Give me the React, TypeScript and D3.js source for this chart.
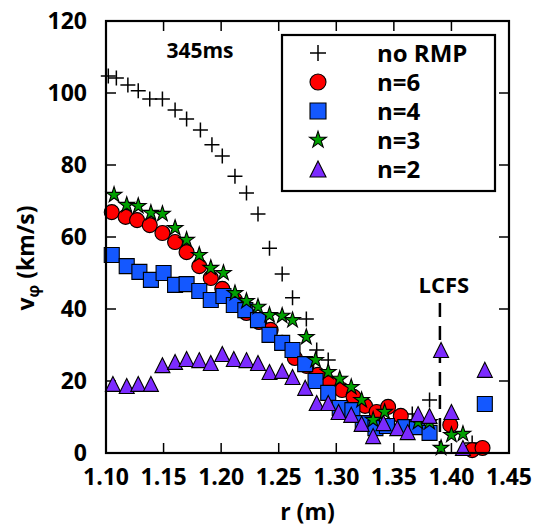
import React from "react";
import * as d3 from "d3";

const xTicks = [1.1, 1.15, 1.2, 1.25, 1.3, 1.35, 1.4, 1.45];
const yTicks = [0, 20, 40, 60, 80, 100, 120];

const rNoRMP = [1.102,1.109,1.119,1.128,1.138,1.149,1.160,1.170,1.182,1.192,1.201,1.212,1.222,1.232,1.242,1.253,1.262,1.274,1.283,1.293,1.366,1.381,1.418];
const vNoRMP = [104.7,104.2,102.2,100.6,98.3,98.3,95.3,92.8,89.7,85.6,82.5,76.9,72.2,66.4,56.9,49.7,43.1,37.2,28.6,25.8,10.8,14.7,2.8];

const rN6 = [1.105,1.117,1.127,1.138,1.149,1.160,1.170,1.181,1.191,1.201,1.212,1.222,1.233,1.243,1.253,1.264,1.274,1.284,1.294,1.305,1.315,1.325,1.335,1.345,1.356,1.399,1.418,1.427];
const vN6 = [66.9,65.6,64.7,63.3,61.1,58.6,55.8,51.9,48.6,45.6,42.5,38.9,36.4,34.2,30.6,26.4,24.2,21.7,19.4,17.5,15.6,13.1,11.4,12.8,10.3,7.8,0.8,1.4];

const rN4 = [1.105,1.118,1.129,1.139,1.150,1.160,1.170,1.181,1.191,1.202,1.211,1.221,1.232,1.242,1.253,1.262,1.273,1.282,1.293,1.303,1.314,1.323,1.334,1.344,1.360,1.370,1.381,1.429];
const vN4 = [55.0,51.9,50.3,48.1,50.0,46.7,46.9,45.0,42.5,43.6,41.1,39.7,36.9,32.8,30.6,28.6,24.7,20.0,16.7,12.5,11.9,8.3,6.9,7.5,7.2,7.2,5.6,13.6];

const rN3 = [1.107,1.118,1.128,1.139,1.149,1.160,1.170,1.181,1.191,1.202,1.212,1.222,1.232,1.242,1.253,1.262,1.274,1.282,1.293,1.303,1.313,1.322,1.332,1.342,1.371,1.381,1.391,1.400,1.410];
const vN3 = [71.7,68.9,68.6,66.7,66.4,62.5,59.2,55.0,51.4,50.0,44.4,42.2,40.6,38.3,38.1,36.9,32.2,25.8,22.5,20.6,18.3,14.7,9.2,11.4,8.6,8.6,1.4,5.0,5.3];

const rN2 = [1.106,1.118,1.128,1.139,1.149,1.160,1.170,1.181,1.191,1.201,1.211,1.222,1.232,1.242,1.253,1.262,1.273,1.283,1.293,1.302,1.313,1.322,1.332,1.341,1.353,1.362,1.371,1.381,1.391,1.400,1.410,1.429];
const vN2 = [19.2,18.6,19.2,19.2,24.4,25.3,26.1,25.8,25.0,27.5,26.1,25.8,25.0,22.5,22.8,21.1,18.1,13.9,13.9,11.4,10.6,8.1,4.7,8.3,6.9,5.8,10.8,10.3,28.6,11.4,1.4,23.1];

const lcfsR = 1.39;
const seriesNames = ["no RMP", "n=6", "n=4", "n=3", "n=2"];

const W = 537, H = 531;
const M = { left: 106, right: 509, top: 21, bottom: 453 };
const FONT = "'Open Sans', sans-serif";

type Kind = "plus" | "circle" | "square" | "star" | "tri";

function markerPath(kind: Kind, s: number): string {
  const h = s / 2;
  if (kind === "plus") return `M${-h},0H${h}M0,${-h}V${h}`;
  if (kind === "circle") return d3.symbol(d3.symbolCircle, Math.PI * h * h)() as string;
  if (kind === "square") return `M${-h},${-h}H${h}V${h}H${-h}Z`;
  if (kind === "tri") return `M0,${-h}L${h},${h}L${-h},${h}Z`;
  const ro = h * 1.1, ri = ro * 0.382;
  const pts: string[] = [];
  for (let i = 0; i < 10; i++) {
    const a = -Math.PI / 2 + (i * Math.PI) / 5;
    const r = i % 2 === 0 ? ro : ri;
    pts.push(`${(r * Math.cos(a)).toFixed(2)},${(r * Math.sin(a)).toFixed(2)}`);
  }
  return "M" + pts.join("L") + "Z";
}

const styles: { kind: Kind; fill: string; size: number }[] = [
  { kind: "plus", fill: "none", size: 15 },
  { kind: "circle", fill: "#ff0000", size: 15 },
  { kind: "square", fill: "#1458ff", size: 15 },
  { kind: "star", fill: "#00a000", size: 15 },
  { kind: "tri", fill: "#7c2bff", size: 15 },
];

export default function App() {
  const x = d3.scaleLinear().domain([1.1, 1.45]).range([M.left, M.right]);
  const y = d3.scaleLinear().domain([0, 120]).range([M.bottom, M.top]);
  const data = [
    [rNoRMP, vNoRMP],
    [rN6, vN6],
    [rN4, vN4],
    [rN3, vN3],
    [rN2, vN2],
  ];
  const tickLen = 10;
  const legX = 282, legY = 35, legW = 213, legH = 156;
  return (
    <svg width={W} height={H} style={{ position: "absolute", left: 0, top: 0, background: "#fff" }}>
      <rect x={0} y={0} width={W} height={H} fill="#fff" />
      {xTicks.map((t) => (
        <g key={"xt" + t}>
          <line x1={x(t)} x2={x(t)} y1={M.bottom} y2={M.bottom - tickLen} stroke="#000" strokeWidth={1.5} />
          <line x1={x(t)} x2={x(t)} y1={M.top} y2={M.top + tickLen} stroke="#000" strokeWidth={1.5} />
          <text x={x(t)} y={485} textAnchor="middle" fontFamily={FONT} fontWeight={700} fontSize={23}>
            {t.toFixed(2)}
          </text>
        </g>
      ))}
      {yTicks.map((t) => (
        <g key={"yt" + t}>
          <line x1={M.left} x2={M.left + tickLen} y1={y(t)} y2={y(t)} stroke="#000" strokeWidth={1.5} />
          <line x1={M.right} x2={M.right - tickLen} y1={y(t)} y2={y(t)} stroke="#000" strokeWidth={1.5} />
          <text x={87} y={y(t) + 8} textAnchor="end" fontFamily={FONT} fontWeight={700} fontSize={23}>
            {t}
          </text>
        </g>
      ))}
      <line x1={x(lcfsR)} x2={x(lcfsR)} y1={303} y2={M.bottom} stroke="#000" strokeWidth={2.5} strokeDasharray="14 9" />
      <text x={x(lcfsR) + 4} y={293} textAnchor="middle" fontFamily={FONT} fontWeight={700} fontSize={22}>
        LCFS
      </text>
      {data.map(([rs, vs], si) => {
        const st = styles[si];
        const p = markerPath(st.kind, st.size);
        return (
          <g key={"s" + si}>
            {rs.map((r, i) => (
              <path
                key={i}
                d={p}
                transform={`translate(${x(r)},${y(vs[i])})`}
                fill={st.fill}
                stroke="#000"
                strokeWidth={st.kind === "plus" ? 1.5 : 1.1}
              />
            ))}
          </g>
        );
      })}
      <rect x={M.left} y={M.top} width={M.right - M.left} height={M.bottom - M.top} fill="none" stroke="#000" strokeWidth={2.2} />
      <text x={200} y={58} textAnchor="middle" fontFamily={FONT} fontWeight={700} fontSize={21}>
        345ms
      </text>
      <rect x={legX} y={legY} width={legW} height={legH} fill="#fff" stroke="#000" strokeWidth={2.2} />
      {seriesNames.map((name, i) => {
        const st = styles[i];
        const cy = 53 + i * 29;
        return (
          <g key={"l" + i}>
            <path d={markerPath(st.kind, 16)} transform={`translate(318,${cy})`} fill={st.fill} stroke="#000" strokeWidth={st.kind === "plus" ? 1.5 : 1.1} />
            <text x={377} y={cy + 9} fontFamily={FONT} fontWeight={700} fontSize={24}>
              {name}
            </text>
          </g>
        );
      })}
      <text x={(M.left + M.right) / 2} y={520} textAnchor="middle" fontFamily={FONT} fontWeight={700} fontSize={23}>
        r (m)
      </text>
      <text transform={`translate(34,258) rotate(-90)`} textAnchor="middle" fontFamily={FONT} fontWeight={700} fontSize={23}>
        v<tspan fontSize={16} dy={5}>φ</tspan>
        <tspan dy={-5}> (km/s)</tspan>
      </text>
    </svg>
  );
}
